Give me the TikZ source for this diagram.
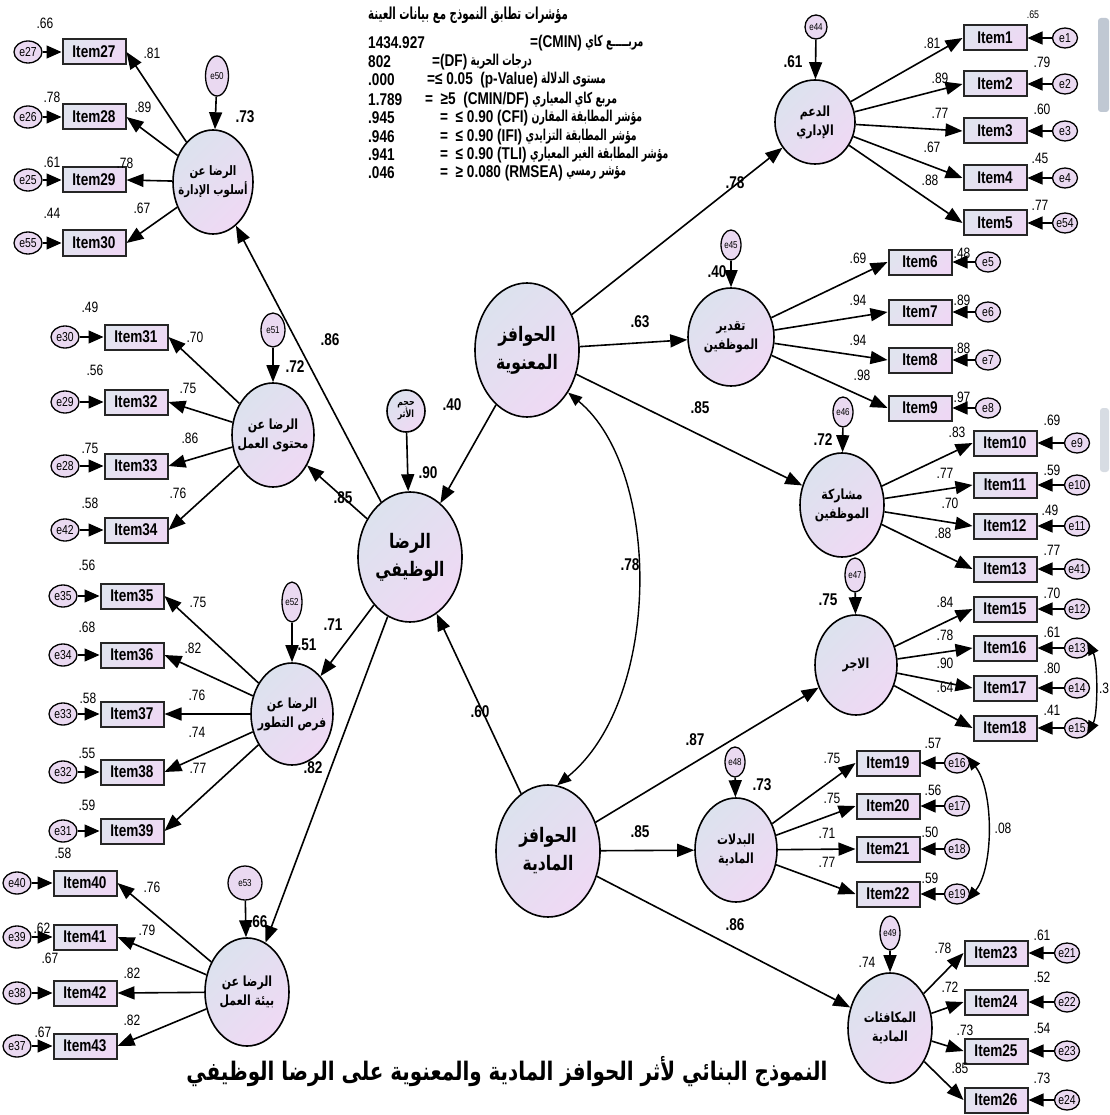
\documentclass[tikz,border=0pt]{standalone}
\usepackage{fontspec}
\setmainfont{Liberation Sans}
\newfontfamily\nr[FakeStretch=0.8]{Liberation Sans}
\newfontfamily\arabicfont[Script=Arabic,FakeStretch=0.78]{DejaVu Sans}
\newfontfamily\arabicfit[Script=Arabic,FakeStretch=0.62]{DejaVu Sans}
\TeXXeTstate=1
\usetikzlibrary{shapes.geometric,arrows.meta}
\newcommand\AR[1]{{\arabicfont\beginR#1\endR}}
\newcommand\ARF[1]{{\arabicfit\beginR#1\endR}}
\newcommand\lblfont{\nr\fontsize{15}{15}\selectfont}
\newcommand\itmfont{\nr\bfseries\fontsize{17}{17}\selectfont}
\newcommand\errfont{\nr\fontsize{13}{13}\selectfont}
\newcommand\rsqfont{\nr\bfseries\fontsize{17}{17}\selectfont}
\newcommand\fitfont{\nr\bfseries\fontsize{17}{17}\selectfont}
\definecolor{latA}{HTML}{DCE2EE}
\definecolor{latB}{HTML}{EFD9F4}
\definecolor{boxA}{HTML}{E1E4EF}
\definecolor{boxB}{HTML}{EED8F4}
\definecolor{errC}{HTML}{EAD9F1}
\definecolor{smear}{HTML}{8E9BB0}
\tikzset{
  lat/.style={ellipse, draw, line width=1.6pt, inner sep=0pt,
    top color=latA, bottom color=latB, shading angle=45},
  item/.style={rectangle, draw=black!85, line width=2pt, minimum width=63pt,
    minimum height=25pt, inner sep=0pt, top color=boxA, bottom color=boxB,
    shading angle=45, font=\itmfont},
  err/.style={ellipse, draw, line width=1.3pt, inner sep=0pt, fill=errC,
    font=\errfont, minimum width=25pt, minimum height=20pt},
  dist/.style={ellipse, draw, line width=1.3pt, inner sep=0pt, fill=errC,
    font=\nr\fontsize{10}{10}\selectfont},
  arr/.style={line width=1.6pt, -{Triangle[length=17pt,width=13pt]}},
  arrs/.style={line width=1.4pt, -{Triangle[length=15pt,width=13pt]}},
  arrboth/.style={line width=1.4pt,
    {Triangle[length=14pt,width=11pt]}-{Triangle[length=14pt,width=11pt]}},
  lbl/.style={font=\lblfont, inner sep=0pt},
  rsq/.style={font=\rsqfont, inner sep=0pt},
  artxt/.style={align=center, inner sep=0pt,
    font=\arabicfont\bfseries\fontsize{14}{19}\selectfont},
  arbig/.style={align=center, inner sep=0pt,
    font=\arabicfont\bfseries\fontsize{20}{28}\selectfont},
  fitl/.style={font=\fitfont, inner sep=0pt, anchor=west},
  fita/.style={font=\arabicfit\bfseries\fontsize{15}{15}\selectfont,
    inner sep=0pt, anchor=west},
}
\begin{document}
\begin{tikzpicture}[x=1pt,y=-1pt]
\path[use as bounding box, fill=white] (0,0) rectangle (1109,1115);

% faint smears at the right margin
\fill[smear, opacity=0.55, rounded corners=3pt] (1098,18) rectangle (1109,112);
\fill[smear, opacity=0.35, rounded corners=3pt] (1100,408) rectangle (1109,472);

% ---------------- latent variables ----------------
\node[lat, minimum width=104pt, minimum height=134pt] (M)  at (527,350) {};
\node[arbig] at (M) {\AR{الحوافز}\\\AR{المعنوية}};
\node[lat, minimum width=104pt, minimum height=132pt] (P)  at (548,851) {};
\node[arbig] at (P) {\AR{الحوافز}\\\AR{المادية}};
\node[lat, minimum width=104pt, minimum height=130pt] (JS) at (410,557) {};
\node[arbig] at (JS) {\AR{الرضا}\\\AR{الوظيفي}};
\node[lat, minimum width=38pt, minimum height=42pt] (EFF) at (406,411) {};
\node[artxt, font=\arabicfont\bfseries\fontsize{10}{12}\selectfont] at (EFF) {\AR{حجم}\\\AR{الأثر}};

\node[lat, minimum width=80pt, minimum height=84pt]  (f1) at (815,122) {};
\node[artxt] at (f1) {\AR{الدعم}\\\AR{الإداري}};
\node[lat, minimum width=86pt, minimum height=98pt]  (f2) at (731,337) {};
\node[artxt] at (f2) {\AR{تقدير}\\\AR{الموظفين}};
\node[lat, minimum width=84pt, minimum height=104pt] (f3) at (842,505) {};
\node[artxt] at (f3) {\AR{مشاركة}\\\AR{الموظفين}};
\node[lat, minimum width=82pt, minimum height=100pt] (f4) at (856,665) {};
\node[artxt] at (f4) {\AR{الاجر}};
\node[lat, minimum width=82pt, minimum height=104pt] (f5) at (736,850) {};
\node[artxt] at (f5) {\AR{البدلات}\\\AR{المادية}};
\node[lat, minimum width=84pt, minimum height=110pt] (f6) at (890,1028) {};
\node[artxt] at (f6) {\AR{المكافئات}\\\AR{المادية}};

\node[lat, minimum width=80pt, minimum height=104pt] (g1) at (213,182) {};
\node[artxt, font=\arabicfont\bfseries\fontsize{13}{19}\selectfont] at (g1) {\AR{الرضا عن}\\\AR{أسلوب الإدارة}};
\node[lat, minimum width=82pt, minimum height=104pt] (g2) at (273,435) {};
\node[artxt] at (g2) {\AR{الرضا عن}\\\AR{محتوى العمل}};
\node[lat, minimum width=82pt, minimum height=102pt] (g3) at (292,714) {};
\node[artxt] at (g3) {\AR{الرضا عن}\\\AR{فرص التطور}};
\node[lat, minimum width=84pt, minimum height=108pt] (g4) at (247,992) {};
\node[artxt] at (g4) {\AR{الرضا عن}\\\AR{بيئة العمل}};

% ---------------- disturbances ----------------
\node[dist, minimum width=22pt, minimum height=24pt] (d44) at (816,27) {e44};
\node[dist, minimum width=20pt, minimum height=30pt] (d45) at (731,245) {e45};
\node[dist, minimum width=20pt, minimum height=30pt] (d46) at (843,412) {e46};
\node[dist, minimum width=20pt, minimum height=34pt] (d47) at (855,575) {e47};
\node[dist, minimum width=20pt, minimum height=30pt] (d48) at (735,762) {e48};
\node[dist, minimum width=20pt, minimum height=34pt] (d49) at (890,933) {e49};
\node[dist, minimum width=23pt, minimum height=40pt] (d50) at (217,76) {e50};
\node[dist, minimum width=24pt, minimum height=34pt] (d51) at (273,330) {e51};
\node[dist, minimum width=20pt, minimum height=40pt] (d52) at (292,602) {e52};
\node[dist, minimum width=34pt, minimum height=34pt] (d53) at (245,883) {e53};

\foreach \d/\f in {d44/f1,d45/f2,d46/f3,d47/f4,d48/f5,d49/f6,d50/g1,d51/g2,d52/g3,d53/g4}
  \draw[arr] (\d) -- (\f);
\draw[arr] (EFF) -- (JS);

% ---------------- observed items, right side ----------------
\foreach \n/\x/\y/\e/\ex in {
  1/995/38/e1/1065, 2/995/84/e2/1065, 3/995/131/e3/1065, 4/995/178/e4/1065, 5/995/223/e54/1065,
  6/920/262/e5/988, 7/920/312/e6/988, 8/920/360/e7/988, 9/920/408/e8/988,
  10/1005/443/e9/1077, 11/1005/485/e10/1077, 12/1005/526/e11/1077, 13/1005/569/e41/1077,
  15/1005/609/e12/1077, 16/1005/648/e13/1077, 17/1005/688/e14/1077, 18/1005/728/e15/1077,
  19/888/763/e16/957, 20/888/806/e17/957, 21/888/849/e18/957, 22/888/894/e19/957,
  23/996/953/e21/1067, 24/996/1002/e22/1067, 25/996/1051/e23/1067, 26/996/1100/e24/1067}
{
  \node[item] (i\n) at (\x,\y) {Item\n};
  \node[err] (x\n) at (\ex,\y) {\e};
  \draw[arrs] (x\n) -- (i\n.east);
}

% ---------------- observed items, left side ----------------
\foreach \n/\x/\y/\e/\ex in {
  27/94/52/e27/28, 28/94/117/e26/28, 29/94/180/e25/28, 30/94/243/e55/28,
  31/136/337/e30/65, 32/136/402/e29/65, 33/136/466/e28/65, 34/136/530/e42/65,
  35/132/596/e35/63, 36/132/655/e34/63, 37/132/714/e33/63, 38/132/772/e32/63, 39/132/831/e31/63,
  40/85/883/e40/17, 41/85/937/e39/17, 42/85/993/e38/17, 43/85/1046/e37/17}
{
  \node[item] (i\n) at (\x,\y) {Item\n};
  \node[err, minimum width=28pt, minimum height=22pt] (x\n) at (\ex,\y) {\e};
  \draw[arrs] (x\n) -- (i\n.west);
}

% ---------------- measurement paths ----------------
\foreach \n in {1,...,5}   \draw[arr] (f1) -- (i\n.west);
\foreach \n in {6,...,9}   \draw[arr] (f2) -- (i\n.west);
\foreach \n in {10,...,13} \draw[arr] (f3) -- (i\n.west);
\foreach \n in {15,...,18} \draw[arr] (f4) -- (i\n.west);
\foreach \n in {19,...,22} \draw[arr] (f5) -- (i\n.west);
\foreach \n in {23,...,26} \draw[arr] (f6) -- (i\n.west);
\foreach \n in {27,...,30} \draw[arr] (g1) -- (i\n.east);
\foreach \n in {31,...,34} \draw[arr] (g2) -- (i\n.east);
\foreach \n in {35,...,39} \draw[arr] (g3) -- (i\n.east);
\foreach \n in {40,...,43} \draw[arr] (g4) -- (i\n.east);

% ---------------- structural paths ----------------
\foreach \f in {g1,g2,g3,g4} \draw[arr] (JS) -- (\f);
\draw[arr] (M) -- (JS);
\draw[arr] (P) -- (JS);
\foreach \f in {f1,f2,f3} \draw[arr] (M) -- (\f);
\foreach \f in {f4,f5,f6} \draw[arr] (P) -- (\f);

% ---------------- covariances ----------------
\draw[arrboth] (M.-46) .. controls (662,470) and (662,700) .. (P.82);
\draw[arrboth] (x16.35) .. controls (1098,662) and (1098,714) .. (x18.-35);
\draw[arrboth] (x19.35) .. controls (994,790) and (994,868) .. (x22.-35);

% ---------------- path coefficients ----------------
\foreach \i/\x/\y/\t in {
  a1/932/43/.81, a2/940/78/.89, a3/940/113/.77, a4/932/147/.67, a5/930/180/.88,
  a6/858/258/.69, a7/858/300/.94, a8/858/340/.94, a9/862/375/.98,
  a10/957/432/.83, a11/945/473/.77, a12/950/503/.70, a13/943/533/.88,
  a15/945/602/.84, a16/945/635/.78, a17/945/663/.90, a18/945/687/.64,
  a19/832/758/.75, a20/832/798/.75, a21/827/833/.71, a22/827/862/.77,
  a23/943/948/.78, a24/950/987/.72, a25/965/1030/.73, a26/960/1068/.85,
  a27/152/53/.81, a28/143/107/.89, a29/125/163/.78, a30/142/208/.67,
  a31/195/337/.70, a32/188/388/.75, a33/190/438/.86, a34/178/493/.76,
  a35/198/602/.75, a36/193/648/.82, a37/197/695/.76, a38/197/732/.74, a39/198/768/.77,
  a40/152/887/.76, a41/147/930/.79, a42/132/973/.82, a43/132/1020/.82}
  \node[lbl] (\i) at (\x,\y) {\t};

% squared multiple correlations of the items
\foreach \i/\x/\y/\t in {
  r2/1042/62/.79, r3/1042/109/.60, r4/1040/158/.45, r5/1040/205/.77,
  r6/962/253/.48, r7/962/300/.89, r8/962/348/.88, r9/962/397/.97,
  r10/1052/420/.69, r11/1052/470/.59, r12/1050/510/.49, r13/1052/550/.77,
  r15/1052/593/.70, r16/1052/632/.61, r17/1052/668/.80, r18/1052/710/.41,
  r19/933/743/.57, r20/933/790/.56, r21/930/832/.50, r22/930/878/.59,
  r23/1042/935/.61, r24/1042/977/.52, r25/1042/1028/.54, r26/1042/1078/.73,
  r27/45/23/.66, r28/52/97/.78, r29/52/162/.61, r30/52/213/.44,
  r31/90/307/.49, r32/95/370/.56, r33/90/448/.75, r34/90/503/.58,
  r35/87/565/.56, r36/87/627/.68, r37/88/698/.58, r38/87/753/.55, r39/87/805/.59,
  r40/63/853/.58, r41/42/928/.62, r42/50/958/.67, r43/43/1032/.67,
  r74/867/962/.74, c13/1104/688/.3, c19/1003/828/.08}
  \node[lbl] (\i) at (\x,\y) {\t};
\node[lbl, font=\nr\fontsize{11}{11}\selectfont] (r1) at (1033,15) {.65};

% structural coefficients and latent R squared
\foreach \i/\x/\y/\t in {
  s1/330/340/.86, s2/343/498/.85, s3/333/625/.71, s4/313/768/.82, s5/428/473/.90,
  s6/452/405/.40, s7/480/712/.60, s8/630/565/.78, s9/735/183/.78, s10/640/322/.63,
  s11/700/408/.85, s12/695/740/.87, s13/640/832/.85, s14/735/925/.86,
  q1/793/62/.61, q2/717/272/.40, q3/823/440/.72, q4/828/600/.75, q5/762/785/.73,
  q6/245/117/.73, q7/295/367/.72, q8/307/645/.51, q9/258/922/.66}
  \node[rsq] (\i) at (\x,\y) {\t};

% ---------------- fit indices ----------------
\node[fita, font=\arabicfit\bfseries\fontsize{16.5}{16.5}\selectfont]
  (fit0) at (368,15) {\ARF{مؤشرات تطابق النموذج مع بيانات العينة}};
\foreach \k/\y/\v/\lx/\lt/\at in {
  1/43/1434.927/530/{=(CMIN)}/{مربـــــع كاي},
  2/62/802/432/{=(DF)}/{درجات الحرية},
  3/80/.000/427/{=≤ 0.05 \ (p-Value)}/{مستوى الدلالة},
  4/100/1.789/425/{= \ ≥5 \ (CMIN/DF)}/{مربع كاي المعياري},
  5/118/.945/440/{= \ ≤ 0.90 (CFI)}/{مؤشر المطابقة المقارن},
  6/137/.946/440/{= \ ≤ 0.90 (IFI)}/{مؤشر المطابقة التزايدي},
  7/155/.941/440/{= \ ≤ 0.90 (TLI)}/{مؤشر المطابقة الغير المعياري},
  8/173/.046/440/{= \ ≥ 0.080 (RMSEA)}/{مؤشر رمسي}}
{
  \node[fitl] (fv\k) at (368,\y) {\v};
  \node[fitl] (fl\k) at (\lx,\y) {\lt};
  \node[fita] (fa\k) at ([xshift=3pt]fl\k.east) {\ARF{\at}};
}

% ---------------- title ----------------
\node[font=\arabicfont\bfseries\fontsize{25.5}{25.5}\selectfont, inner sep=0pt]
  (title) at (507,1072) {\AR{النموذج البنائي لأثر الحوافز المادية والمعنوية على الرضا الوظيفي}};
\end{tikzpicture}
\end{document}
